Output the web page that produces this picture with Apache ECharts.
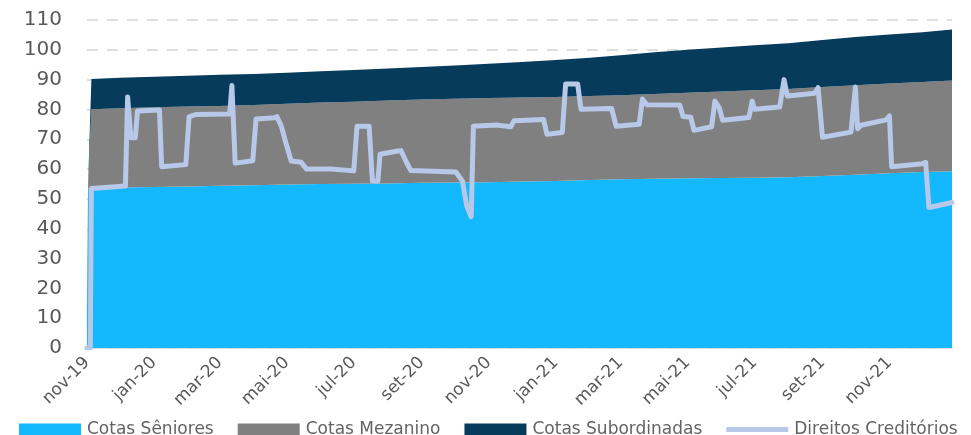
<!DOCTYPE html>
<html>
<head>
<meta charset="utf-8">
<script src="https://cdn.jsdelivr.net/npm/echarts@6/dist/echarts.min.js"></script>
<style>
html,body{margin:0;padding:0;background:#fff;}
#c{width:971px;height:435px;}
</style>
</head>
<body>
<div id="c"></div>
<script>
// ---- data ----
const areaDates = ['2019-11-01','2019-11-02','2019-11-05','2019-12-01','2020-01-01','2020-02-01','2020-03-01','2020-04-01','2020-05-01','2020-06-01','2020-07-01','2020-08-01','2020-09-01','2020-10-01','2020-11-01','2020-12-01','2021-01-01','2021-02-01','2021-03-01','2021-04-01','2021-05-01','2021-06-01','2021-07-01','2021-08-01','2021-09-01','2021-10-01','2021-11-01','2021-12-01','2021-12-28'];
const cotasSeniores = [11.8,53.5,53.6,53.8,54.0,54.2,54.4,54.6,54.8,55.0,55.1,55.2,55.4,55.5,55.6,55.8,56.0,56.3,56.6,56.8,56.9,57.0,57.1,57.3,57.7,58.1,58.6,59.0,59.3];
const cotasMezanino = [6.7,0.5,26.5,26.6,26.7,26.8,26.8,26.9,27.1,27.3,27.5,27.8,27.9,28.1,28.2,28.2,28.2,28.2,28.2,28.4,28.7,29.0,29.3,29.6,29.8,30.0,30.1,30.2,30.4];
const cotasSubordinadas = [0,1.0,10.1,10.2,10.3,10.3,10.4,10.4,10.4,10.5,10.6,10.7,10.9,11.1,11.5,11.9,12.4,12.8,13.4,14.0,14.4,14.8,15.1,15.3,15.8,16.2,16.4,16.7,17.1];

const dcDates = ['2019-11-01','2019-11-04','2019-11-05','2019-12-06','2019-12-08','2019-12-11','2019-12-15','2019-12-17','2020-01-06','2020-01-08','2020-01-30','2020-02-02','2020-02-08','2020-03-10','2020-03-12','2020-03-15','2020-03-31','2020-04-03','2020-04-20','2020-04-22','2020-04-26','2020-04-30','2020-05-05','2020-05-14','2020-05-19','2020-06-10','2020-07-01','2020-07-04','2020-07-15','2020-07-18','2020-07-23','2020-07-25','2020-08-09','2020-08-13','2020-08-18','2020-08-22','2020-10-02','2020-10-08','2020-10-12','2020-10-16','2020-10-18','2020-11-08','2020-11-21','2020-11-24','2020-12-21','2020-12-24','2021-01-07','2021-01-10','2021-01-21','2021-01-24','2021-02-21','2021-02-25','2021-03-18','2021-03-21','2021-03-25','2021-04-24','2021-04-27','2021-05-04','2021-05-07','2021-05-23','2021-05-26','2021-05-30','2021-06-02','2021-06-26','2021-06-29','2021-07-01','2021-07-24','2021-07-28','2021-07-31','2021-08-25','2021-08-28','2021-09-01','2021-09-27','2021-10-01','2021-10-03','2021-10-06','2021-10-29','2021-11-01','2021-11-03','2021-12-01','2021-12-04','2021-12-07','2021-12-28'];
const direitosCreditorios = [0,0,53.5,54.3,84.2,70.5,70.5,79.5,79.8,60.8,61.5,77.5,78.3,78.5,88.0,62.0,62.8,76.8,77.2,77.6,74.4,69.0,62.7,62.3,60.0,60.0,59.4,74.4,74.4,56.0,56.0,65.0,66.0,66.2,62.3,59.5,59.0,56.0,47.5,44.0,74.4,74.8,74.2,76.2,76.6,71.7,72.3,88.5,88.5,80.1,80.3,74.4,75.0,83.5,81.6,81.5,77.6,77.4,73.0,74.2,82.8,80.5,76.4,77.3,82.8,80.1,80.8,90.0,84.5,85.4,87.3,70.7,72.4,87.5,73.5,74.7,76.5,77.8,60.8,61.8,62.3,47.1,48.8];

const monthNames = ['jan','fev','mar','abr','mai','jun','jul','ago','set','out','nov','dez'];

const pair = (ds, vs) => ds.map((d, i) => [d, vs[i]]);

const chart = echarts.init(document.getElementById('c'), null, {renderer: 'canvas'});
const FONT = 'DejaVu Sans';
const DAY = 86400000;

function areaSeries(name, color, vals) {
  return {
    name: name, type: 'line', stack: 'total', symbol: 'none', showSymbol: false,
    data: pair(areaDates, vals),
    itemStyle: {color: color},
    lineStyle: {width: 0, color: color},
    areaStyle: {color: color, opacity: 1},
    emphasis: {disabled: true},
    z: 2
  };
}

chart.setOption({
  animation: false,
  backgroundColor: '#ffffff',
  grid: {left: 87, right: 19, top: 20, bottom: 87, containLabel: false},
  legend: {
    left: 14, top: 416, itemGap: 24, itemWidth: 62, itemHeight: 12,
    textStyle: {fontFamily: FONT, fontSize: 17, color: '#636363', padding: [0,0,0,1]},
    data: [
      {name: 'Cotas Sêniores', icon: 'rect'},
      {name: 'Cotas Mezanino', icon: 'rect'},
      {name: 'Cotas Subordinadas', icon: 'rect'},
      {name: 'Direitos Creditórios', icon: 'path://M0,0H62V5H0Z'}
    ]
  },
  xAxis: {
    type: 'time',
    min: '2019-11-01',
    max: '2021-12-28',
    splitNumber: 13,
    minInterval: 59 * DAY,
    maxInterval: 62 * DAY,
    axisLine: {show: true, lineStyle: {color: '#d9d9d9', width: 1.5}},
    axisTick: {show: false},
    splitLine: {show: false},
    axisLabel: {
      rotate: 45, margin: 12, fontFamily: FONT, fontSize: 17, color: '#595959',
      hideOverlap: false,
      formatter: function (v) {
        const d = new Date(v);
        return monthNames[d.getMonth()] + '-' + String(d.getFullYear()).slice(2);
      }
    }
  },
  yAxis: {
    type: 'value', min: 0, max: 110, interval: 10,
    axisLine: {show: false}, axisTick: {show: false},
    axisLabel: {fontFamily: FONT, fontSize: 20, color: '#595959', margin: 25},
    splitLine: {show: true, lineStyle: {color: '#d4d4d4', width: 1.5, type: [11, 9]}}
  },
  series: [
    areaSeries('Cotas Sêniores', '#14b8fd', cotasSeniores),
    areaSeries('Cotas Mezanino', '#808080', cotasMezanino),
    areaSeries('Cotas Subordinadas', '#063b5c', cotasSubordinadas),
    {
      name: 'Direitos Creditórios', type: 'line', symbol: 'none', showSymbol: false,
      data: pair(dcDates, direitosCreditorios),
      itemStyle: {color: '#b7c8e8'},
      lineStyle: {width: 5, color: '#b7c8e8', join: 'round', cap: 'round'},
      emphasis: {disabled: true},
      z: 5
    }
  ]
});
</script>
</body>
</html>
